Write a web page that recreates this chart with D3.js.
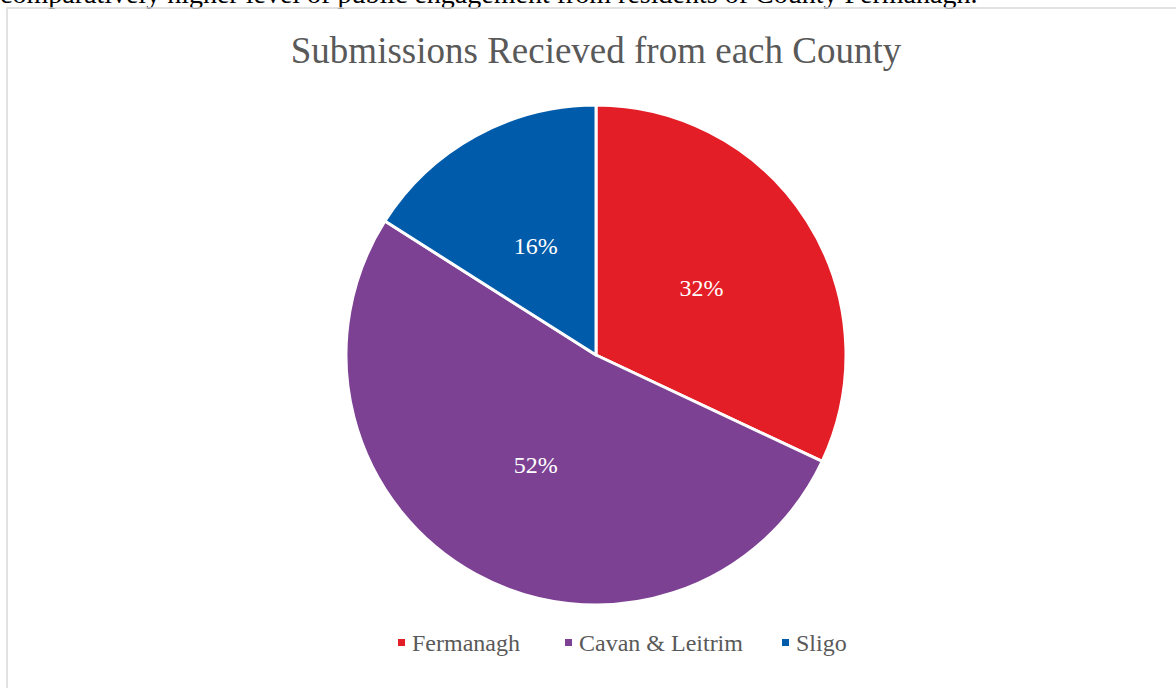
<!DOCTYPE html>
<html>
<head>
<meta charset="utf-8">
<script src="https://cdn.jsdelivr.net/npm/d3@7"></script>
<style>
	body{margin:0;background:#fff;}
	svg{display:block;}
</style>
</head>
<body>
<svg id="chart" width="1176" height="688"></svg>
<script>
// data
var counties = ["Fermanagh", "Cavan & Leitrim", "Sligo"];
var shares = [32, 52, 16];
var sliceColors = ["#e41e26", "#7d4194", "#005baa"];

var svg = d3.select("#chart");
var width = +svg.attr("width");
var height = +svg.attr("height");
var font = "'Liberation Serif', 'Times New Roman', serif";

// cut-off line of body text above the chart
svg.append("text")
	.attr("x", 0)
	.attr("y", 3)
	.style("font-family", font)
	.style("font-size", "28px")
	.style("fill", "#000")
	.text("comparatively higher level of public engagement from residents of County Fermanagh.");

// chart frame
svg.append("rect")
	.attr("x", 7)
	.attr("y", 8)
	.attr("width", width)
	.attr("height", height)
	.style("fill", "none")
	.style("stroke", "#d9d9d9")
	.style("stroke-width", 1.5);

svg.append("text")
	.attr("x", 596)
	.attr("y", 63)
	.attr("text-anchor", "middle")
	.style("font-family", font)
	.style("font-size", "37px")
	.style("fill", "#595959")
	.text("Submissions Recieved from each County");

var radius = 250;
var cx = 596, cy = 355;
var color = d3.scaleOrdinal().domain(counties).range(sliceColors);

var pieData = d3.pie().sort(null).value(function(d){ return d.value; })(
	counties.map(function(c, i){ return {name: c, value: shares[i]}; }));
var total = d3.sum(shares);

var arc = d3.arc().innerRadius(0).outerRadius(radius);
var labelArc = d3.arc().innerRadius(radius*0.5).outerRadius(radius*0.5);

var g = svg.append("g").attr("transform", "translate(" + cx + "," + cy + ")");

g.selectAll("path.slice")
	.data(pieData)
	.enter().append("path")
	.attr("class", "slice")
	.attr("d", arc)
	.style("fill", function(d){ return color(d.data.name); })
	.style("stroke", "#fff")
	.style("stroke-width", 3)
	.style("stroke-linejoin", "round");

g.selectAll("text.pct")
	.data(pieData)
	.enter().append("text")
	.attr("class", "pct")
	.attr("transform", function(d){ return "translate(" + labelArc.centroid(d) + ")"; })
	.attr("text-anchor", "middle")
	.attr("dy", "0.35em")
	.style("font-family", font)
	.style("font-size", "24px")
	.style("fill", "#fff")
	.text(function(d){ return Math.round(d.data.value / total * 100) + "%"; });

// legend
var legendX = [398, 565, 782];
var legend = svg.selectAll("g.legend")
	.data(counties)
	.enter().append("g")
	.attr("class", "legend")
	.attr("transform", function(d, i){ return "translate(" + legendX[i] + ",643)"; });

legend.append("rect")
	.attr("x", 0)
	.attr("y", -4)
	.attr("width", 7)
	.attr("height", 7)
	.style("fill", function(d){ return color(d); });

legend.append("text")
	.attr("x", 14)
	.attr("dy", "0.35em")
	.style("font-family", font)
	.style("font-size", "24px")
	.style("fill", "#595959")
	.text(function(d){ return d; });
</script>
</body>
</html>
